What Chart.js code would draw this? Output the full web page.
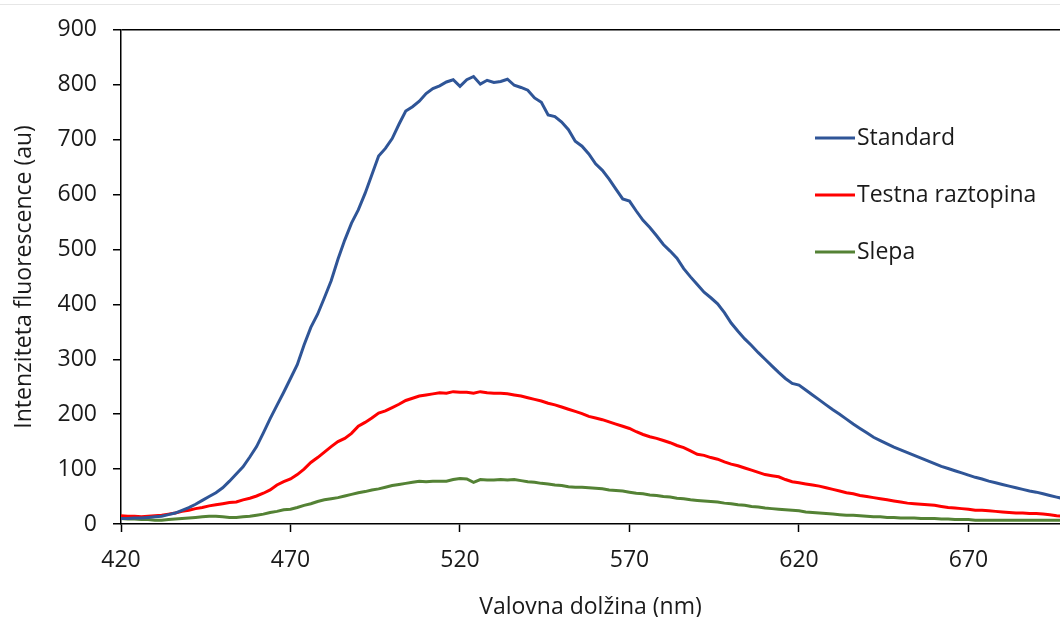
<!DOCTYPE html>
<html>
<head>
<meta charset="utf-8">
<script src="https://cdn.jsdelivr.net/npm/chart.js@4.4.1/dist/chart.umd.min.js"></script>
<style>
  html, body { margin: 0; padding: 0; background: #ffffff; }
  #wrap { position: relative; width: 1060px; height: 617px; }
</style>
</head>
<body>
<div id="wrap"><canvas id="c"></canvas></div>
<script>
// ---- Data ----
const wavelengths = [
  420,422,424,426,428,430,432,434,436,438,440,442,444,446,448,450,452,454,456,458,
  460,462,464,466,468,470,472,474,476,478,480,482,484,486,488,490,492,494,496,498,
  500,502,504,506,508,510,512,514,516,518,520,522,524,526,528,530,532,534,536,538,
  540,542,544,546,548,550,552,554,556,558,560,562,564,566,568,570,572,574,576,578,
  580,582,584,586,588,590,592,594,596,598,600,602,604,606,608,610,612,614,616,618,
  620,622,624,626,628,630,632,634,636,638,640,642,644,646,648,650,652,654,656,658,
  660,662,664,666,668,670,672,674,676,678,680,682,684,686,688,690,692,694,696,698
];
const standard = [
  10,10,11,11,12,13,14,17,20,25,30,36,43,50,57,66,78,91,104,122,
  141,166,192,216,240,265,290,326,358,382,412,443,482,517,548,572,602,636,670,684,
  702,728,752,760,770,784,793,798,805,809,797,809,815,801,808,804,806,810,799,795,
  790,776,768,745,742,732,718,697,688,674,656,644,628,610,592,588,570,553,540,525,
  509,497,484,465,450,436,422,412,401,385,366,351,337,325,312,300,288,276,265,256,
  253,244,235,226,217,208,200,191,182,174,166,158,152,146,140,135,130,125,120,115,
  110,105,101,97,93,89,85,82,78,75,72,69,66,63,60,58,55,52,49,46
];
const testna = [
  15,14,14,13,14,15,16,18,20,23,25,28,30,33,35,37,39,40,44,47,
  51,56,62,71,77,82,90,100,112,121,131,141,150,156,165,178,185,193,202,206,
  212,218,225,229,233,235,237,239,238,241,240,240,238,241,239,238,238,237,235,233,
  230,227,224,220,217,213,209,205,201,196,193,190,186,182,178,174,168,163,159,156,
  152,148,143,139,133,127,125,121,118,113,109,106,102,98,94,90,88,86,81,77,
  75,73,71,69,66,63,60,57,55,52,50,48,46,44,42,40,38,37,36,35,
  34,32,30,29,28,27,25,25,24,23,22,21,20,20,19,19,18,17,15,14
];
const slepa = [
  10,9,9,8,8,7,7,8,9,10,11,12,13,14,14,13,12,12,13,14,
  16,18,21,23,26,27,30,34,37,41,44,46,48,51,54,57,59,62,64,67,
  70,72,74,76,78,77,78,78,78,81,83,82,76,81,80,80,81,80,81,79,
  77,76,74,73,71,70,68,67,67,66,65,64,62,61,60,58,56,55,53,52,
  50,49,47,46,44,43,42,41,40,38,37,35,34,32,31,29,28,27,26,25,
  24,22,21,20,19,18,17,16,16,15,14,13,13,12,12,11,11,11,10,10,
  10,9,9,8,8,8,7,7,7,7,7,7,7,7,7,7,7,7,7,7
];
const seriesNames = ['Standard', 'Testna raztopina', 'Slepa'];
const xTicks = [420, 470, 520, 570, 620, 670];
const yTicks = [0, 100, 200, 300, 400, 500, 600, 700, 800, 900];

// ---- Styles ----
const FONT = "'Open Sans', 'Noto Sans', sans-serif";
const TEXT = '#1a1a1a';
const colors = ['#2F5597', '#FF0000', '#548235'];

const toPoints = vals => wavelengths.map((w, i) => ({ x: w, y: vals[i] }));

const legendPlugin = {
  id: 'insideLegend',
  afterDraw(chart) {
    const ctx = chart.ctx;
    const rowsY = [138, 195, 252];
    ctx.save();
    chart.data.datasets.forEach((ds, i) => {
      const y = rowsY[i];
      ctx.strokeStyle = ds.borderColor;
      ctx.lineWidth = 3;
      ctx.beginPath();
      ctx.moveTo(815, y);
      ctx.lineTo(855, y);
      ctx.stroke();
      ctx.fillStyle = TEXT;
      ctx.font = "23px " + FONT;
      ctx.textAlign = 'left';
      ctx.textBaseline = 'middle';
      ctx.fillText(ds.label, 857, y);
    });
    ctx.restore();
  }
};

const frameLine = {
  id: 'frameLine',
  beforeDraw(chart) {
    const ctx = chart.ctx;
    ctx.save();
    ctx.strokeStyle = '#e6e6e6';
    ctx.lineWidth = 1;
    ctx.beginPath();
    ctx.moveTo(0, 4.5);
    ctx.lineTo(chart.width, 4.5);
    ctx.stroke();
    ctx.restore();
  }
};

new Chart(document.getElementById('c'), {
  type: 'line',
  data: {
    datasets: [standard, testna, slepa].map((vals, i) => ({
      label: seriesNames[i],
      data: toPoints(vals),
      borderColor: colors[i],
      backgroundColor: colors[i],
      borderWidth: 3,
      pointRadius: 0,
      tension: 0,
      fill: false
    }))
  },
  options: {
    responsive: true,
    maintainAspectRatio: false,
    animation: false,
    layout: { padding: { top: 26, right: 0, bottom: 0, left: 0 } },
    plugins: {
      legend: { display: false },
      tooltip: { enabled: false }
    },
    scales: {
      x: {
        type: 'linear',
        min: 420,
        max: 697,
        afterBuildTicks: axis => { axis.ticks = xTicks.map(v => ({ value: v })); },
        afterFit: axis => { axis.height = 93; },
        ticks: {
          color: TEXT,
          font: { family: FONT, size: 23 },
          padding: 15,
          maxRotation: 0,
          autoSkip: false
        },
        grid: {
          drawOnChartArea: false,
          drawTicks: true,
          tickLength: 8,
          tickColor: '#000',
          tickWidth: 1.5
        },
        border: { display: true, color: '#000', width: 1.5 },
        title: {
          display: true,
          text: 'Valovna dolžina (nm)',
          color: TEXT,
          font: { family: FONT, size: 23 },
          padding: { top: 0, bottom: -4 }
        }
      },
      y: {
        type: 'linear',
        min: 0,
        max: 900,
        afterBuildTicks: axis => { axis.ticks = yTicks.map(v => ({ value: v })); },
        afterFit: axis => { axis.width = 121; },
        ticks: {
          color: TEXT,
          font: { family: FONT, size: 23 },
          padding: 16
        },
        grid: {
          drawOnChartArea: true,
          drawTicks: true,
          tickLength: 8,
          color: ctx => (ctx.tick && ctx.tick.value === 900) ? '#000' : 'rgba(0,0,0,0)',
          lineWidth: 1.5,
          tickColor: '#000',
          tickWidth: 1.5
        },
        border: { display: true, color: '#000', width: 1.5 },
        title: {
          display: true,
          text: 'Intenziteta fluorescence (au)',
          color: TEXT,
          font: { family: FONT, size: 23 },
          padding: { top: 11, bottom: 0 }
        }
      }
    }
  },
  plugins: [frameLine, legendPlugin]
});
</script>
</body>
</html>
